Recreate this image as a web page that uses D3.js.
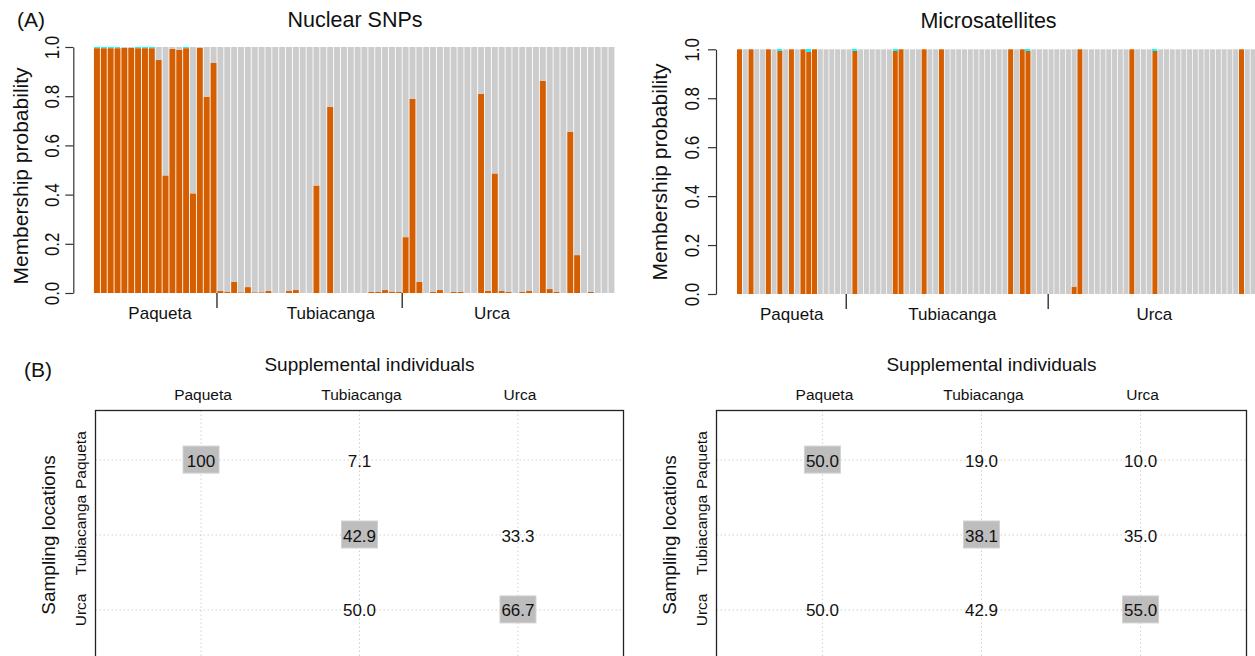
<!DOCTYPE html>
<html>
<head>
<meta charset="utf-8">
<script src="https://cdn.jsdelivr.net/npm/d3@7"></script>
<style>
  html, body { margin: 0; padding: 0; background: #fff; }
  svg { display: block; }
  text { font-family: "Liberation Sans", Arial, Helvetica, sans-serif; fill: #111; }
</style>
</head>
<body>
<svg id="chart" width="1255" height="656"></svg>
<script>
// ---------------- DATA ----------------
const groups = ["Paqueta", "Tubiacanga", "Urca"];

// Nuclear SNPs: 76 individuals (18 Paqueta, 27 Tubiacanga, 31 Urca)
const snpGroupSizes = [18, 27, 31];
const snpOrange = [
  0.995, 0.995, 0.995, 0.995, 0.996, 0.996, 0.995, 0.995, 0.995, 0.947,
  0.478, 0.992, 0.988, 0.995, 0.405, 0.996, 0.798, 0.935,
  0.008, 0.004, 0.045, 0.003, 0.024, 0.003, 0.003, 0.008, 0.000, 0.000,
  0.008, 0.012, 0.000, 0.000, 0.437, 0.000, 0.757, 0.002, 0.000, 0.000,
  0.000, 0.000, 0.004, 0.004, 0.012, 0.006, 0.004,
  0.227, 0.789, 0.045, 0.000, 0.004, 0.012, 0.000, 0.004, 0.004, 0.000,
  0.000, 0.810, 0.008, 0.486, 0.008, 0.004, 0.000, 0.004, 0.008, 0.002,
  0.862, 0.016, 0.004, 0.000, 0.656, 0.154, 0.000, 0.004, 0.000, 0.000,
  0.000
];
const snpCyan = [
  0.005, 0.005, 0.005, 0.005, 0, 0, 0.005, 0.005, 0.005, 0,
  0, 0, 0, 0.005, 0, 0, 0, 0,
  0, 0, 0, 0, 0, 0, 0, 0, 0, 0, 0, 0, 0, 0, 0, 0, 0, 0, 0, 0, 0, 0, 0, 0, 0, 0, 0,
  0, 0, 0, 0, 0, 0, 0, 0, 0, 0, 0, 0, 0, 0, 0, 0, 0, 0, 0, 0, 0, 0, 0, 0, 0, 0, 0, 0, 0, 0, 0
];
const snpLabelPos = [9.7, 34.6, 58.1];   // group label anchors, in bar units

// Microsatellites: 90 individuals (19 Paqueta, 35 Tubiacanga, 36 Urca)
const msGroupSizes = [19, 35, 36];
const msOrange = [
  1, 0, 1, 0, 0, 1, 0, 0.995, 0, 1,
  0, 1, 0.99, 1, 0, 0, 0, 0, 0, 0,
  0.995, 0, 0, 0, 0, 0, 0, 0.995, 1, 0,
  0, 0, 1, 0, 0, 1, 0, 0, 0, 0,
  0, 0, 0, 0, 0, 0, 0, 1, 0, 1,
  0.995, 0, 0, 0, 0, 0, 0, 0, 0.03, 1,
  0, 0, 0, 0, 0, 0, 0, 0, 1, 0,
  0, 0, 0.995, 0, 0, 0, 0, 0, 0, 0,
  0, 0, 0, 0, 0, 0, 0, 1, 0, 0
];
const msCyan = [
  0, 0, 0, 0, 0, 0, 0, 0.005, 0, 0,
  0, 0, 0.01, 0, 0, 0, 0, 0, 0, 0,
  0.005, 0, 0, 0, 0, 0, 0, 0.005, 0, 0,
  0, 0, 0, 0, 0, 0, 0, 0, 0, 0,
  0, 0, 0, 0, 0, 0, 0, 0, 0, 0,
  0.005, 0, 0, 0, 0, 0, 0, 0, 0, 0,
  0, 0, 0, 0, 0, 0, 0, 0, 0, 0,
  0, 0, 0.005, 0, 0, 0, 0, 0, 0, 0,
  0, 0, 0, 0, 0, 0, 0, 0, 0, 0
];
const msLabelPos = [9.55, 37.4, 72.4];

const yTicks = [0, 0.2, 0.4, 0.6, 0.8, 1.0];

// Assignment tables (%): rows = sampling locations, cols = supplemental individuals
const snpTable = [
  { row: "Paqueta",    col: "Paqueta",    value: "100",  diag: true },
  { row: "Paqueta",    col: "Tubiacanga", value: "7.1",  diag: false },
  { row: "Tubiacanga", col: "Tubiacanga", value: "42.9", diag: true },
  { row: "Tubiacanga", col: "Urca",       value: "33.3", diag: false },
  { row: "Urca",       col: "Tubiacanga", value: "50.0", diag: false },
  { row: "Urca",       col: "Urca",       value: "66.7", diag: true }
];
const msTable = [
  { row: "Paqueta",    col: "Paqueta",    value: "50.0", diag: true },
  { row: "Paqueta",    col: "Tubiacanga", value: "19.0", diag: false },
  { row: "Paqueta",    col: "Urca",       value: "10.0", diag: false },
  { row: "Tubiacanga", col: "Tubiacanga", value: "38.1", diag: true },
  { row: "Tubiacanga", col: "Urca",       value: "35.0", diag: false },
  { row: "Urca",       col: "Paqueta",    value: "50.0", diag: false },
  { row: "Urca",       col: "Tubiacanga", value: "42.9", diag: false },
  { row: "Urca",       col: "Urca",       value: "55.0", diag: true }
];

// ---------------- DRAWING ----------------
const svg = d3.select("#chart");
const COLORS = { orange: "#D55E00", gray: "#CCCCCC", cyan: "#00FFFF" };
const FONT = "'Liberation Sans', Arial, Helvetica, sans-serif";

function barPanel(opt) {
  const n = opt.orange.length;
  const pad = 0.13;
  const x = d3.scaleBand()
    .domain(d3.range(n))
    .range([opt.x0, opt.x0 + n * opt.step])
    .paddingInner(pad).paddingOuter(pad / 2);
  const y = d3.scaleLinear().domain([0, 1]).range([opt.yBottom, opt.yTop]);

  const rows = opt.orange.map((o, i) => {
    const c = opt.cyan[i];
    const g = Math.max(0, 1 - o - c);
    return { i, segs: [
      { y0: 0, y1: o, col: COLORS.orange },
      { y0: o, y1: o + g, col: COLORS.gray },
      { y0: o + g, y1: o + g + c, col: COLORS.cyan }
    ]};
  });

  const g = svg.append("g");
  g.selectAll("g.bar").data(rows).join("g").attr("class", "bar")
    .selectAll("rect").data(d => d.segs.filter(s => s.y1 - s.y0 > 0).map(s => ({ ...s, i: d.i })))
    .join("rect")
    .attr("x", d => x(d.i))
    .attr("width", x.bandwidth())
    .attr("y", d => y(d.y1))
    .attr("height", d => y(d.y0) - y(d.y1))
    .attr("fill", d => d.col)
    .attr("shape-rendering", d => d.col === COLORS.cyan ? "crispEdges" : null);

  // y axis
  const ax = g.append("g")
    .attr("transform", `translate(${opt.axisX},0)`)
    .call(d3.axisLeft(y).tickValues(yTicks).tickFormat(d3.format(".1f")).tickSize(8).tickSizeOuter(0));
  ax.select(".domain").attr("stroke", "#333").attr("stroke-width", 1.2);
  ax.selectAll(".tick line").attr("stroke", "#333").attr("stroke-width", 1.2);
  ax.selectAll(".tick text")
    .attr("x", 0).attr("dy", 0)
    .attr("transform", `translate(${opt.tickLabelOff},0) rotate(-90) scale(1,1.15)`)
    .attr("text-anchor", "middle")
    .style("font-family", FONT).style("font-size", "17px").attr("fill", "#111");
  ax.attr("font-family", null).attr("font-size", null);

  // y label
  g.append("text")
    .attr("transform", `translate(${opt.ylabX},${opt.ylabY}) rotate(-90)`)
    .attr("text-anchor", "middle")
    .style("font-size", "21px")
    .text("Membership probability");

  // title
  g.append("text")
    .attr("x", opt.titleX).attr("y", opt.titleY)
    .attr("text-anchor", "middle")
    .style("font-size", "21.5px")
    .text(opt.title);

  // group separators
  let cum = 0;
  const seps = [];
  opt.groupSizes.slice(0, -1).forEach(s => { cum += s; seps.push(cum); });
  g.selectAll("line.sep").data(seps).join("line").attr("class", "sep")
    .attr("x1", d => (x(d - 1) + x.bandwidth() + x(d)) / 2)
    .attr("x2", d => (x(d - 1) + x.bandwidth() + x(d)) / 2)
    .attr("y1", opt.yBottom)
    .attr("y2", opt.yBottom + 15)
    .attr("stroke", "#222").attr("stroke-width", 1.3);

  // group labels
  g.selectAll("text.grp").data(groups).join("text").attr("class", "grp")
    .attr("x", (d, i) => x.range()[0] + x.step() * opt.labelPos[i])
    .attr("y", opt.yBottom + 26)
    .attr("text-anchor", "middle")
    .style("font-size", "17px")
    .text(d => d);
}

barPanel({
  orange: snpOrange, cyan: snpCyan, groupSizes: snpGroupSizes, labelPos: snpLabelPos,
  x0: 93.5, step: 6.86, yTop: 47, yBottom: 293,
  axisX: 73.3, tickLabelOff: -14, ylabX: 28.3, ylabY: 176,
  title: "Nuclear SNPs", titleX: 355, titleY: 27
});
barPanel({
  orange: msOrange, cyan: msCyan, groupSizes: msGroupSizes, labelPos: msLabelPos,
  x0: 736.6, step: 5.77, yTop: 49.3, yBottom: 294,
  axisX: 716, tickLabelOff: -16.7, ylabX: 666.7, ylabY: 172,
  title: "Microsatellites", titleX: 988.5, titleY: 28
});

svg.append("text").attr("x", 17).attr("y", 27).style("font-size", "21px").text("(A)");
svg.append("text").attr("x", 24).attr("y", 377).style("font-size", "21px").text("(B)");

function tablePanel(opt) {
  const g = svg.append("g");
  const xs = d3.scalePoint().domain(groups).range([opt.left, opt.right]).padding(0.666);
  const ys = d3.scalePoint().domain(groups).range([opt.top, opt.top + 249]).padding(0.662);
  const bottom = opt.top + 260;

  // grid
  g.selectAll("line.vg").data(groups).join("line").attr("class", "vg")
    .attr("x1", d => xs(d)).attr("x2", d => xs(d))
    .attr("y1", opt.top).attr("y2", bottom)
    .attr("stroke", "#d0d0d0").attr("stroke-dasharray", "1.5,2.5").attr("stroke-width", 1);
  g.selectAll("line.hg").data(groups).join("line").attr("class", "hg")
    .attr("x1", opt.left).attr("x2", opt.right)
    .attr("y1", d => ys(d)).attr("y2", d => ys(d))
    .attr("stroke", "#d0d0d0").attr("stroke-dasharray", "1.5,2.5").attr("stroke-width", 1);

  // frame
  g.append("rect")
    .attr("x", opt.left).attr("y", opt.top)
    .attr("width", opt.right - opt.left).attr("height", bottom - opt.top)
    .attr("fill", "none").attr("stroke", "#222").attr("stroke-width", 1.3);

  // highlight boxes
  g.selectAll("rect.hl").data(opt.data.filter(d => d.diag)).join("rect").attr("class", "hl")
    .attr("x", d => xs(d.col) - 18).attr("y", d => ys(d.row) - 14)
    .attr("width", 36).attr("height", 27)
    .attr("fill", "#bdbdbd").attr("stroke", "#d2d2d2").attr("stroke-width", 1);

  // values
  g.selectAll("text.val").data(opt.data).join("text").attr("class", "val")
    .attr("x", d => xs(d.col)).attr("y", d => ys(d.row) + 6.5)
    .attr("text-anchor", "middle")
    .style("font-size", "17px")
    .text(d => d.value);

  // column headers
  g.selectAll("text.ch").data(groups).join("text").attr("class", "ch")
    .attr("x", d => xs(d) + 2).attr("y", opt.top - 10.5)
    .attr("text-anchor", "middle")
    .style("font-size", "15.5px")
    .text(d => d);

  // row labels
  g.selectAll("text.rh").data(groups).join("text").attr("class", "rh")
    .attr("transform", d => `translate(${opt.left - 9.5},${ys(d)}) rotate(-90)`)
    .attr("text-anchor", "middle")
    .style("font-size", "15.5px")
    .text(d => d);

  g.append("text")
    .attr("x", (opt.left + opt.right) / 2 + 10).attr("y", 371)
    .attr("text-anchor", "middle")
    .style("font-size", "19px")
    .text("Supplemental individuals");

  g.append("text")
    .attr("transform", `translate(${opt.left - 41},${ys("Tubiacanga")}) rotate(-90)`)
    .attr("text-anchor", "middle")
    .style("font-size", "19px")
    .text("Sampling locations");
}

tablePanel({ data: snpTable, left: 95.5, right: 623.5, top: 410.5 });
tablePanel({ data: msTable, left: 716.5, right: 1246.5, top: 410.5 });
</script>
</body>
</html>
